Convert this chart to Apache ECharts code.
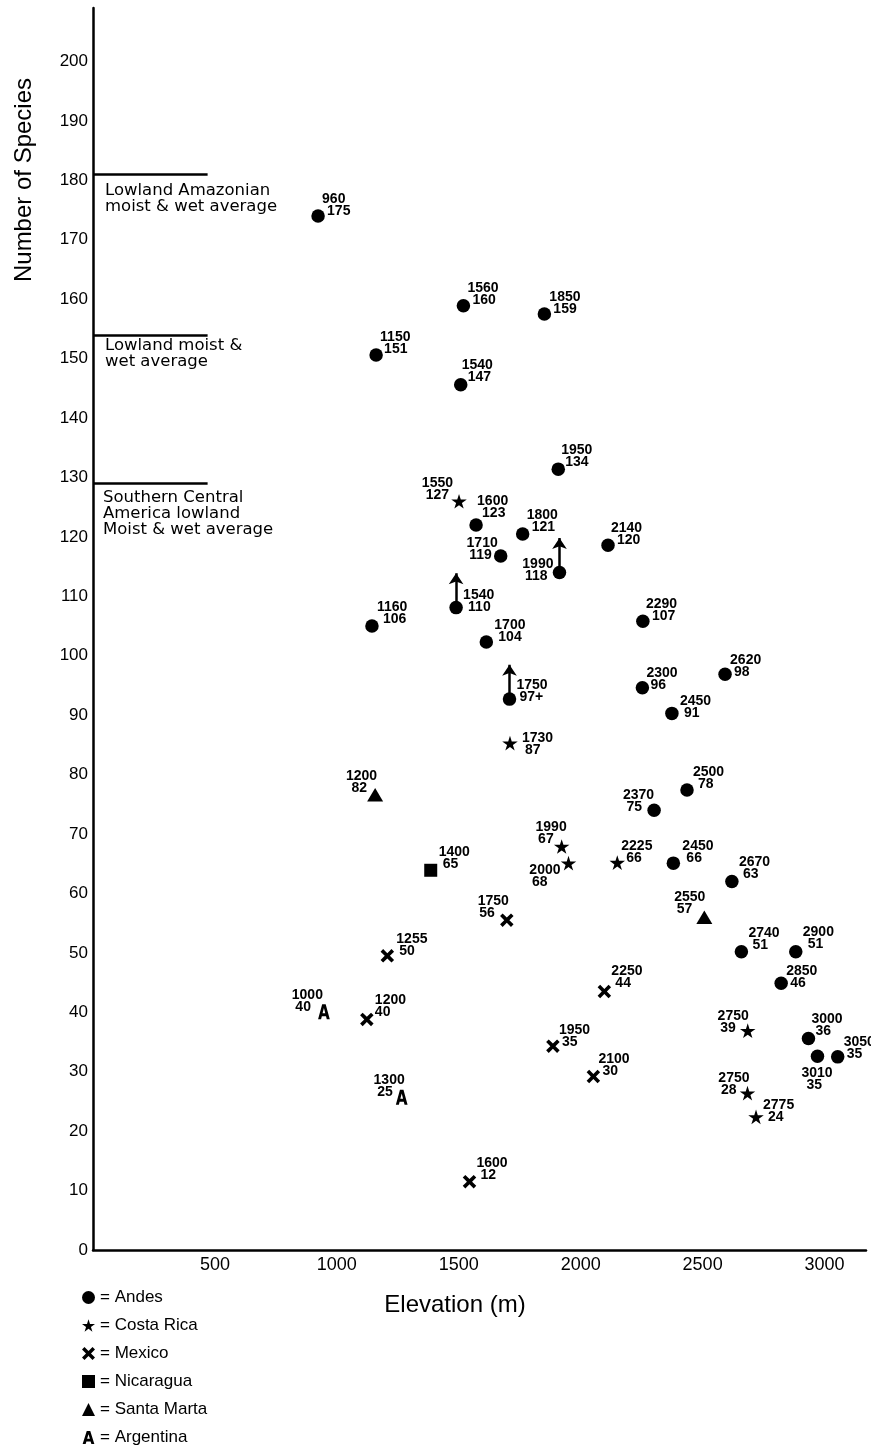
<!DOCTYPE html>
<html lang="en" style="height: 100%">
<head>
  <meta charset="utf-8">
</head>
<body style="height: 100%; margin: 0; background: #fff">
  <div id="container" style="width: 871px; height: 1450px"></div>

  <script type="text/javascript" src="https://cdn.jsdelivr.net/npm/echarts@6/dist/echarts.min.js"></script>

  <script type="text/javascript">
    var dom = document.getElementById('container');
    var myChart = echarts.init(dom, null, { renderer: 'canvas' });

// plotted positions (elevation m, number of species),
// plus the two-line annotations printed next to each mark
const andesX = [923, 1161, 1519, 1851, 1508, 1908, 1571, 1762, 2112, 1672, 1913, 1489, 1144, 1613, 2255,
  2592, 2253, 1708, 2374, 2436, 2301, 2380, 2620, 2659, 2882, 2822, 2934, 2971, 3054];
const andesY = [174.0, 150.6, 158.9, 157.5, 145.6, 131.4, 122.0, 120.5, 118.6, 116.8, 114.0, 108.1, 105.0, 102.3, 105.8,
  96.9, 94.6, 92.7, 90.3, 77.4, 74.0, 65.1, 62.0, 50.2, 50.2, 44.9, 35.6, 32.6, 32.5];
const andesElev = ['960', '1150', '1560', '1850', '1540', '1950', '1600', '1800', '2140', '1710', '1990', '1540', '1160', '1700', '2290',
  '2620', '2300', '1750', '2450', '2500', '2370', '2450', '2670', '2740', '2900', '2850', '3000', '3010', '3050'];
const andesSpecies = ['175', '151', '160', '159', '147', '134', '123', '121', '120', '119', '118', '110', '106', '104', '107',
  '98', '96', '97+', '91', '78', '75', '66', '63', '51', '51', '46', '36', '35', '35'];
// Andes sites drawn with an upward arrow (lower bound)
const arrowSites = [10, 11, 17];
const arrowRise = 5.8;

const costaX = [1501, 1710, 1922, 1950, 2150, 2685, 2684, 2719];
const costaY = [126.0, 85.3, 67.9, 65.1, 65.2, 36.9, 26.4, 22.4];
const costaElev = ['1550', '1730', '1990', '2000', '2225', '2750', '2750', '2775'];
const costaSpecies = ['127', '87', '67', '68', '66', '39', '28', '24'];

const mexicoX = [1697, 1207, 1123, 2097, 1886, 2052, 1544];
const mexicoY = [55.5, 49.5, 38.8, 43.5, 34.3, 29.2, 11.5];
const mexicoElev = ['1750', '1255', '1200', '2250', '1950', '2100', '1600'];
const mexicoSpecies = ['56', '50', '40', '44', '35', '30', '12'];

const nicaX = [1385];
const nicaY = [63.9];
const nicaElev = ['1400'];
const nicaSpecies = ['65'];

const martaX = [1157, 2507];
const martaY = [76.6, 56.0];
const martaElev = ['1200', '2550'];
const martaSpecies = ['82', '57'];

const argX = [947, 1266];
const argY = [40.1, 25.7];
const argElev = ['1000', '1300'];
const argSpecies = ['40', '25'];

// lowland reference averages (species) and how far the bars reach (m)
const refLevels = [181, 154, 129];
const refEnd = 470;
const refTexts = ['Lowland Amazonian\nmoist & wet average', 'Lowland moist &\nwet average',
  'Southern Central\nAmerica lowland\nMoist & wet average'];

// label placement per mark: [side, dx, dy, indent of 2nd line]
const andesPlace = [['L',4,-11,5],['L',4,-12,4],['L',4,-11.5,5],['L',5,-11,4],['L',1,-14,6],['L',3,-13,4],
  ['L',1,-18,5],['L',4,-13,5],['L',3,-11,6],['R',-3,-6.5,6],['R',-6,-2.5,6],['L',7,-6.5,5],['L',5,-13,6],
  ['L',8,-10.5,4],['L',3,-11,6],['L',5,-8.5,4],['L',4,-9,4],['L',7,-7.5,3],['L',8,-6.5,4],['L',6,-11.5,5],
  ['R',0,-9.5,12],['L',9,-10.5,4],['L',7,-13,4],['L',7,-13,4],['L',7,-14,5],['L',5,-6.5,4],['L',3,-13,4],
  ['L',-16,22.5,5],['L',6,-9,3]];
const costaPlace = [['R',-6,-12,4],['L',12,1,3],['R',5,-13,13],['R',-8,13,13],['L',4,-10.5,5],
  ['R',1,-9,13],['R',2,-8.5,13],['L',7,-5.5,5]];
const mexicoPlace = [['R',2,-13,14],['L',9,-11,3],['L',8,-13,0],['L',7,-14.5,4],['L',6,-10,3],
  ['L',5,-11,4],['L',7,-13,4]];
const nicaPlace = [['L',8,-12,4]];
const martaPlace = [['R',2,-13,10],['R',1,-14.5,13]];
const argPlace = [['R',-1,-11,12],['R',3,-11,12]];

const numFont = { fontFamily: 'Liberation Sans', fontSize: 14, fontWeight: 'bold', color: '#000', lineHeight: 12 };

function makePoints(xs, ys, elev, spec, place) {
  return xs.map(function (x, i) {
    const p = place[i];
    const right = p[0] === 'R';
    return {
      value: [x, ys[i]],
      label: {
        show: true,
        position: 'inside',
        align: right ? 'right' : 'left',
        verticalAlign: 'middle',
        offset: [p[1], p[2]],
        color: '#000',
        textBorderWidth: 0,
        formatter: '{e|' + elev[i] + '}\n{s|' + spec[i] + '}',
        rich: {
          e: numFont,
          s: Object.assign({}, numFont, { padding: right ? [0, p[3], 0, 0] : [0, 0, 0, p[3]] })
        }
      }
    };
  });
}

const starPath = 'path://M50,0 L61,35 L98,35 L68,57 L79,91 L50,70 L21,91 L32,57 L2,35 L39,35 Z';
const crossPath = 'path://M0,3.8 L3.8,0 L10,6.2 L16.2,0 L20,3.8 L13.8,10 L20,16.2 L16.2,20 L10,13.8 L3.8,20 L0,16.2 L6.2,10 Z';
const letterA = 'path://M0,20 L6.3,0 L11.7,0 L18,20 L13.4,20 L12.2,16 L5.8,16 L4.6,20 Z M6.9,12 L11.1,12 L9,5 Z';

function scatter(name, symbol, size, points) {
  return {
    name: name,
    type: 'scatter',
    symbol: symbol,
    symbolSize: size,
    symbolKeepAspect: true,
    itemStyle: { color: '#000', opacity: 1 },
    emphasis: { disabled: true },
    data: points
  };
}

const axisText = { color: '#000', fontFamily: 'Liberation Sans' };

option = {
  animation: false,
  backgroundColor: '#fff',
  grid: { left: 93, right: 5, top: 8, bottom: 200, containLabel: false },
  xAxis: {
    type: 'value',
    min: 0,
    max: 3170,
    interval: 500,
    axisLine: { show: true, onZero: false, lineStyle: { color: '#000', width: 2.5 } },
    axisTick: { show: false },
    splitLine: { show: false },
    axisLabel: Object.assign({ fontSize: 18, margin: 6, showMaxLabel: false,
      formatter: function (v) { return v > 0 && v % 500 === 0 ? String(v) : ''; } }, axisText)
  },
  yAxis: {
    type: 'value',
    min: 0,
    max: 209,
    interval: 10,
    axisLine: { show: true, lineStyle: { color: '#000', width: 2.5 } },
    axisTick: { show: false },
    splitLine: { show: false },
    axisLabel: Object.assign({ fontSize: 17, margin: 5,
      formatter: function (v) { return v % 10 === 0 ? String(v) : ''; } }, axisText)
  },
  legend: {
    orient: 'vertical',
    left: 82,
    top: 1289,
    padding: 0,
    height: 160,
    itemWidth: 13,
    itemHeight: 13,
    itemGap: 11,
    data: ['Andes', 'Costa Rica', 'Mexico', 'Nicaragua', 'Santa Marta', 'Argentina'],
    formatter: '= {name}',
    textStyle: { color: '#000', fontFamily: 'Liberation Sans', fontSize: 17, lineHeight: 17 },
    selectedMode: false
  },
  graphic: [
    { type: 'text', x: 24, y: 180, rotation: Math.PI / 2,
      style: { text: 'Number of Species', font: '24px "Liberation Sans"', fill: '#000', align: 'center', verticalAlign: 'middle' } },
    { type: 'text', x: 455, y: 1305,
      style: { text: 'Elevation (m)', font: '24px "Liberation Sans"', fill: '#000', align: 'center', verticalAlign: 'middle' } },
    { type: 'text', x: 105, y: 198.5,
      style: { text: refTexts[0], font: '16.5px "DejaVu Sans"', lineHeight: 16, fill: '#000', align: 'left', verticalAlign: 'middle' } },
    { type: 'text', x: 105, y: 354,
      style: { text: refTexts[1], font: '16.5px "DejaVu Sans"', lineHeight: 16, fill: '#000', align: 'left', verticalAlign: 'middle' } },
    { type: 'text', x: 103, y: 514,
      style: { text: refTexts[2], font: '16.5px "DejaVu Sans"', lineHeight: 16, fill: '#000', align: 'left', verticalAlign: 'middle' } }
  ],
  series: [
    scatter('Andes', 'circle', 13.5, makePoints(andesX, andesY, andesElev, andesSpecies, andesPlace)),
    scatter('Costa Rica', starPath, 15.5, makePoints(costaX, costaY, costaElev, costaSpecies, costaPlace)),
    scatter('Mexico', crossPath, 13.5, makePoints(mexicoX, mexicoY, mexicoElev, mexicoSpecies, mexicoPlace)),
    scatter('Nicaragua', 'rect', 13, makePoints(nicaX, nicaY, nicaElev, nicaSpecies, nicaPlace)),
    scatter('Santa Marta', 'triangle', [16, 13.5], makePoints(martaX, martaY, martaElev, martaSpecies, martaPlace)),
    scatter('Argentina', letterA, [13, 15], makePoints(argX, argY, argElev, argSpecies, argPlace)),
    {
      name: 'reference',
      type: 'lines',
      coordinateSystem: 'cartesian2d',
      silent: true,
      lineStyle: { color: '#000', width: 2.5, opacity: 1 },
      data: refLevels.map(function (v) { return { coords: [[0, v], [refEnd, v]] }; })
    },
    {
      name: 'arrows',
      type: 'lines',
      coordinateSystem: 'cartesian2d',
      silent: true,
      symbol: ['none', 'arrow'],
      symbolSize: [8, 11],
      lineStyle: { color: '#000', width: 2.5, opacity: 1 },
      data: arrowSites.map(function (i) {
        return { coords: [[andesX[i], andesY[i]], [andesX[i], andesY[i] + arrowRise]] };
      })
    }
  ]
};

    if (option && typeof option === 'object') {
      myChart.setOption(option);
    }

    window.addEventListener('resize', myChart.resize);
  </script>
</body>
</html>
